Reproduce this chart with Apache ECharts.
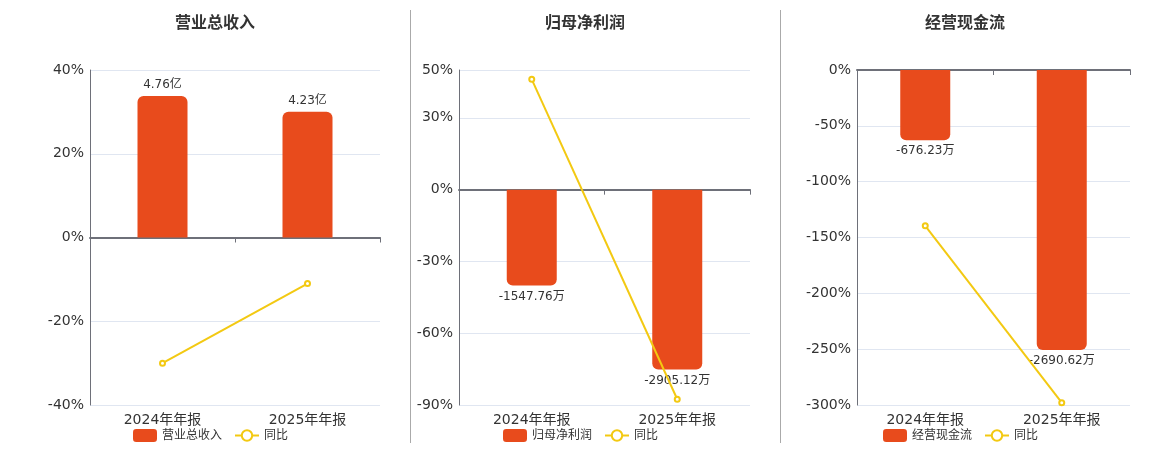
<!DOCTYPE html>
<html><head><meta charset="utf-8">
<script src="https://cdn.jsdelivr.net/npm/echarts@6/dist/echarts.min.js"></script>
<style>html,body{margin:0;padding:0;background:#fff}#c{width:1160px;height:450px}</style>
</head><body><div id="c"></div>
<script>
// ---- data ----
const categories = ['2024年年报', '2025年年报'];
const titles = ['营业总收入', '归母净利润', '经营现金流'];
const revenue = [4.76, 4.23];            // 亿
const netProfit = [-1547.76, -2905.12];  // 万
const opCash = [-676.23, -2690.62];      // 万
const revenueYoY = [-30.0, -11.0];       // %
const netProfitYoY = [46.1, -87.6];      // %
const opCashYoY = [-139.5, -297.9];      // %
const units = ['亿', '万', '万'];
const yoyName = '同比';

// ---- axis ranges ----
const pctMin = [-40, -90, -300];
const pctMax = [40, 50, 0];
const pctInterval = [20, 30, 50];
const barMin = [-5.63, -3480, -3220];
const barMax = [5.63, 1933, 0];

// ---- layout ----
const gridLeft = [90, 459, 857];
const gridWidth = [290, 291, 273];
const titleCenter = [210, 580, 960];
const legendLeft = [128, 498, 878];

const barColor = '#E84B1C';
const lineColor = '#F3C912';
const barSets = [revenue, netProfit, opCash];
const yoySets = [revenueYoY, netProfitYoY, opCashYoY];
const FONT = '"DejaVu Sans", "Noto Sans CJK SC", sans-serif';

const option = {
  animation: false,
  textStyle: {fontFamily: FONT},
  title: [], grid: [], xAxis: [], yAxis: [], series: [], legend: [],
  graphic: [
    {type: 'line', shape: {x1: 410.5, y1: 10, x2: 410.5, y2: 443}, style: {stroke: '#aaa', lineWidth: 1}},
    {type: 'line', shape: {x1: 780.5, y1: 10, x2: 780.5, y2: 443}, style: {stroke: '#aaa', lineWidth: 1}}
  ]
};

for (let i = 0; i < 3; i++) {
  option.title.push({
    text: titles[i], left: titleCenter[i], top: 11, textAlign: 'center',
    textStyle: {fontSize: 16, fontWeight: 'bold', color: '#333', fontFamily: FONT}
  });
  option.grid.push({left: gridLeft[i], width: gridWidth[i], top: 70, height: 335});
  // zero-line axis
  option.xAxis.push({
    type: 'category', data: categories, gridIndex: i, position: 'bottom',
    axisLine: {show: true, onZero: true, lineStyle: {color: '#6E7079', width: 2}},
    axisTick: {show: true, length: 5, lineStyle: {color: '#6E7079'}},
    axisLabel: {show: false}, splitLine: {show: false}
  });
  // label axis at bottom
  option.xAxis.push({
    type: 'category', data: categories, gridIndex: i, position: 'bottom',
    axisLine: {show: false, onZero: false}, axisTick: {show: false},
    axisLabel: {show: true, fontSize: 14, color: '#333', margin: 8, fontFamily: FONT}, splitLine: {show: false}
  });
  option.yAxis.push({
    type: 'value', gridIndex: i, min: pctMin[i], max: pctMax[i], interval: pctInterval[i],
    axisLine: {show: true, lineStyle: {color: '#6E7079', width: 1}},
    axisTick: {show: false},
    axisLabel: {formatter: '{value}%', fontSize: 14, color: '#333', margin: 6, fontFamily: FONT,
      padding: [3, 0, 0, 0]},
    splitLine: {show: true, lineStyle: {color: '#E0E6F1'}}
  });
  option.yAxis.push({
    type: 'value', gridIndex: i, min: barMin[i], max: barMax[i], show: false,
    splitLine: {show: false}
  });
  const unit = units[i];
  option.series.push({
    name: titles[i], type: 'bar', xAxisIndex: i * 2, yAxisIndex: i * 2 + 1,
    barWidth: 50,
    data: barSets[i].map(v => ({
      value: v,
      itemStyle: {borderRadius: v >= 0 ? [6, 6, 0, 0] : [0, 0, 6, 6]},
      label: {position: v >= 0 ? 'top' : 'bottom'}
    })),
    itemStyle: {color: barColor},
    label: {show: true, fontSize: 12, color: '#333', distance: 5, fontFamily: FONT,
      formatter: p => p.value + unit}
  });
  option.series.push({
    name: yoyName, type: 'line', xAxisIndex: i * 2, yAxisIndex: i * 2,
    data: yoySets[i], symbol: 'emptyCircle', symbolSize: 5,
    lineStyle: {color: lineColor, width: 2}, itemStyle: {color: lineColor},
    z: 5
  });
  option.legend.push({
    data: [titles[i], yoyName], left: legendLeft[i], top: 424,
    itemWidth: 24, itemHeight: 13, itemGap: 12,
    textStyle: {fontSize: 12, color: '#333', fontFamily: FONT},
    selectedMode: false
  });
}

const chart = echarts.init(document.getElementById('c'));
chart.setOption(option);
</script></body></html>
